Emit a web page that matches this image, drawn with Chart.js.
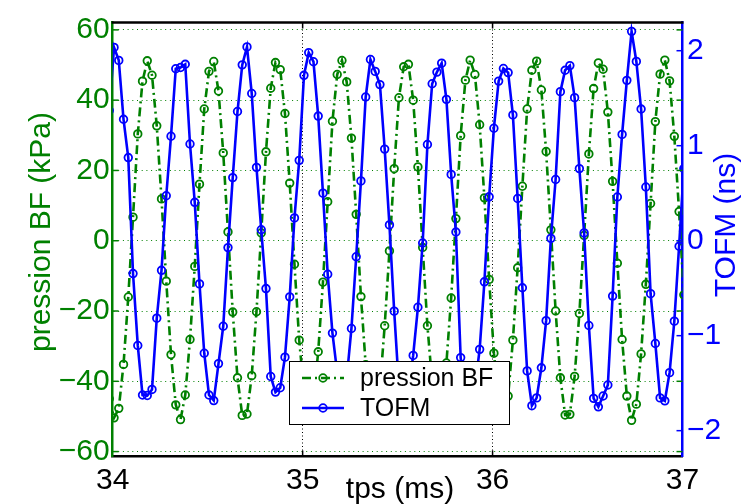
<!DOCTYPE html>
<html>
<head>
<meta charset="utf-8">
<script src="https://cdn.jsdelivr.net/npm/chart.js@4.4.1/dist/chart.umd.min.js"></script>
<style>
  html, body { margin: 0; padding: 0; background: #fff; }
</style>
</head>
<body>
<canvas id="chart" width="746" height="504"></canvas>
<script>
"use strict";

// acquisition : premier echantillon et pas (ms)
const T0 = 33.982;
const DT = 0.025;

// pression BF (kPa), un point par echantillon
const pressionBF = [
  -45.0,
  -50.4, -47.7, -35.2, -16.0, 6.7, 30.4, 45.4, 51.2, 47.1, 32.7,
  11.9, -11.5, -32.4, -46.7, -50.9, -43.9, -28.1, -7.3, 16.1, 37.5,
  48.2, 51.0, 42.6, 25.0, 2.5, -20.3, -39.0, -49.7, -49.3, -38.4,
  -20.2, 2.2, 25.3, 43.4, 50.7, 48.7, 36.2, 16.4, -6.7, -28.3,
  -43.0, -50.0, -45.3, -31.6, -11.8, 11.1, 34.0, 47.3, 51.3, 45.2,
  29.2, 7.5, -15.9, -35.3, -47.2, -49.7, -41.7, -24.2, -2.9, 20.5,
  40.7, 49.5, 50.2, 40.0, 21.0, -1.9, -24.2, -40.3, -49.1, -47.5,
  -34.8, -16.3, 6.3, 29.9, 45.7, 51.4, 47.3, 33.0, 12.2, -11.0,
  -32.0, -45.3, -49.7, -44.2, -28.3, -7.7, 15.5, 37.5, 48.5, 51.1,
  42.9, 25.4, 3.1, -20.0, -39.0, -49.6, -49.4, -38.6, -20.7, 1.5,
  24.7, 43.3, 50.6, 48.8, 36.6, 16.9, -6.4, -28.1, -44.2, -51.1,
  -46.5, -32.2, -12.4, 10.6, 33.9, 47.4, 51.4, 45.5, 29.7, 8.3,
  -15.4
];

// TOFM (ns)
const tofm = [
  1.37,
  2.035, 1.898, 1.278, 0.875, -0.346, -1.103, -1.625, -1.630, -1.566, -0.816,
  -0.312, 0.473, 1.100, 1.810, 1.823, 1.857, 1.018, 0.404, -0.455, -1.185,
  -1.625, -1.683, -1.294, -0.901, -0.073, 0.664, 1.360, 1.851, 2.040, 1.550,
  0.772, 0.115, -0.504, -1.430, -1.594, -1.548, -1.226, -0.591, 0.240, 0.846,
  1.741, 1.980, 1.884, 1.312, 0.500, -0.353, -0.973, -1.389, -1.614, -1.451,
  -0.924, -0.169, 0.629, 1.513, 1.908, 1.782, 1.643, 0.964, 0.166, -0.742,
  -1.543, -1.696, -1.594, -1.208, -0.701, -0.024, 1.013, 1.652, 1.775, 1.869,
  1.488, 0.698, 0.091, -1.231, -1.645, -1.717, -1.543, -1.144, -0.433, 0.462,
  1.184, 1.680, 1.813, 1.770, 1.324, 0.444, -0.496, -1.371, -1.737, -1.655,
  -1.338, -0.842, 0.025, 0.644, 1.569, 1.794, 1.843, 1.506, 0.759, 0.082,
  -0.893, -1.660, -1.749, -1.635, -1.519, -0.583, 0.460, 1.119, 1.688, 2.204,
  1.887, 1.386, 0.565, -0.558, -1.082, -1.655, -1.686, -1.389, -0.847, -0.059,
  0.759
];

const xTicks = [34, 35, 36, 37];
const leftTicks = [-60, -40, -20, 0, 20, 40, 60];
const rightTicks = [-2, -1, 0, 1, 2];

const GREEN = "#008000";
const BLUE = "#0000ff";
const FONT = "'Liberation Sans', Arial, sans-serif";
const GREEN_DASH = [9, 4, 2, 4];

const minus = (v) => String(v).replace("-", "\u2212");
const toPoints = (arr) => arr.map((v, i) => ({ x: T0 + i * DT, y: v }));

function seg(ctx, x1, y1, x2, y2) {
  ctx.beginPath();
  ctx.moveTo(x1, y1);
  ctx.lineTo(x2, y2);
  ctx.stroke();
}

// cadre, graduations interieures, legende et titres des axes
const decor = {
  id: "decor",
  afterDatasetsDraw(chart) {
    const { ctx, chartArea: a, scales } = chart;
    ctx.save();

    ctx.lineWidth = 1.5;
    ctx.strokeStyle = GREEN;
    leftTicks.forEach((v) => {
      const y = scales.y.getPixelForValue(v);
      seg(ctx, a.left, y, a.left + 6, y);
      seg(ctx, a.right - 6, y, a.right, y);
    });
    ctx.strokeStyle = BLUE;
    rightTicks.forEach((v) => {
      const y = scales.y1.getPixelForValue(v);
      seg(ctx, a.right - 6, y, a.right, y);
    });
    ctx.strokeStyle = "#000";
    xTicks.slice(1, -1).forEach((v) => {
      const x = scales.x.getPixelForValue(v);
      seg(ctx, x, a.bottom, x, a.bottom - 6);
      seg(ctx, x, a.top, x, a.top + 6);
    });
    ctx.lineWidth = 2.5;
    seg(ctx, a.left - 1, a.top, a.right + 1, a.top);

    // legende
    const lx = 289, ly = 361, lw = 220, lh = 63;
    ctx.fillStyle = "#fff";
    ctx.fillRect(lx, ly, lw, lh);
    ctx.lineWidth = 1;
    ctx.strokeStyle = "#000";
    ctx.strokeRect(lx + 0.5, ly + 0.5, lw, lh);

    const rows = [
      { label: "pression BF", color: GREEN, dash: GREEN_DASH, y: ly + 17 },
      { label: "TOFM", color: BLUE, dash: [], y: ly + 47 }
    ];
    rows.forEach((r) => {
      ctx.strokeStyle = r.color;
      ctx.lineWidth = 2.6;
      ctx.setLineDash(r.dash);
      seg(ctx, lx + 13, r.y, lx + 55, r.y);
      ctx.setLineDash([]);
      ctx.lineWidth = 1.8;
      ctx.beginPath();
      ctx.arc(lx + 34, r.y, 3.8, 0, Math.PI * 2);
      ctx.stroke();
      ctx.fillStyle = "#000";
      ctx.font = "25px " + FONT;
      ctx.textAlign = "left";
      ctx.textBaseline = "middle";
      ctx.fillText(r.label, lx + 71, r.y + 1);
    });
    ctx.restore();
  },
  afterDraw(chart) {
    const { ctx } = chart;
    ctx.save();
    ctx.font = "30px " + FONT;
    ctx.textAlign = "center";
    ctx.textBaseline = "alphabetic";

    ctx.fillStyle = "#000";
    ctx.fillText("tps (ms)", 400, 498);

    ctx.fillStyle = GREEN;
    ctx.translate(50, 232);
    ctx.rotate(-Math.PI / 2);
    ctx.fillText("pression BF (kPa)", 0, 0);
    ctx.setTransform(1, 0, 0, 1, 0, 0);

    ctx.fillStyle = BLUE;
    ctx.translate(734.5, 225);
    ctx.rotate(-Math.PI / 2);
    ctx.fillText("TOFM (ns)", 0, 0);
    ctx.restore();
  }
};

new Chart(document.getElementById("chart"), {
  type: "line",
  data: {
    datasets: [
      {
        label: "pression BF",
        data: toPoints(pressionBF),
        yAxisID: "y",
        order: 1,
        borderColor: GREEN,
        borderWidth: 2.6,
        borderDash: GREEN_DASH,
        pointRadius: 3.8,
        pointBorderWidth: 1.8,
        pointBorderColor: GREEN,
        pointBackgroundColor: "rgba(0,0,0,0)",
        tension: 0
      },
      {
        label: "TOFM",
        data: toPoints(tofm),
        yAxisID: "y1",
        order: 0,
        borderColor: BLUE,
        borderWidth: 2.6,
        pointRadius: 3.8,
        pointBorderWidth: 1.8,
        pointBorderColor: BLUE,
        pointBackgroundColor: "rgba(0,0,0,0)",
        tension: 0
      }
    ]
  },
  options: {
    responsive: false,
    animation: false,
    devicePixelRatio: 1,
    layout: { padding: { top: 9.7, left: 0, right: 0, bottom: 0 } },
    plugins: { legend: { display: false }, tooltip: { enabled: false } },
    events: [],
    scales: {
      x: {
        type: "linear",
        min: 34,
        max: 37,
        afterBuildTicks: (s) => { s.ticks = xTicks.map((v) => ({ value: v })); },
        afterFit: (s) => { s.height = 47.5; },
        grid: {
          color: (c) => (c.tick && (c.tick.value === 34 || c.tick.value === 37)) ? "rgba(0,0,0,0)" : "#000",
          lineWidth: 1,
          drawTicks: false
        },
        border: { color: "#000", width: 2.5, dash: [1, 2.5] },
        ticks: {
          color: "#000",
          font: { family: FONT, size: 30 },
          padding: 6,
          maxRotation: 0,
          autoSkip: false,
          callback: (v) => String(v)
        }
      },
      y: {
        position: "left",
        min: -61.4,
        max: 62.1,
        afterBuildTicks: (s) => { s.ticks = leftTicks.map((v) => ({ value: v })); },
        afterFit: (s) => { s.width = 112.7; },
        grid: { color: GREEN, lineWidth: 1, drawTicks: false },
        border: { color: GREEN, width: 2.5, dash: [1, 3.7] },
        ticks: { color: GREEN, font: { family: FONT, size: 30 }, padding: 3, callback: minus }
      },
      y1: {
        position: "right",
        min: -2.272,
        max: 2.297,
        afterBuildTicks: (s) => { s.ticks = rightTicks.map((v) => ({ value: v })); },
        afterFit: (s) => { s.width = 63.5; },
        grid: { drawOnChartArea: false, drawTicks: false },
        border: { color: BLUE, width: 2.5 },
        ticks: { color: BLUE, font: { family: FONT, size: 30 }, padding: 4.5, callback: minus }
      }
    }
  },
  plugins: [decor]
});
</script>
</body>
</html>
